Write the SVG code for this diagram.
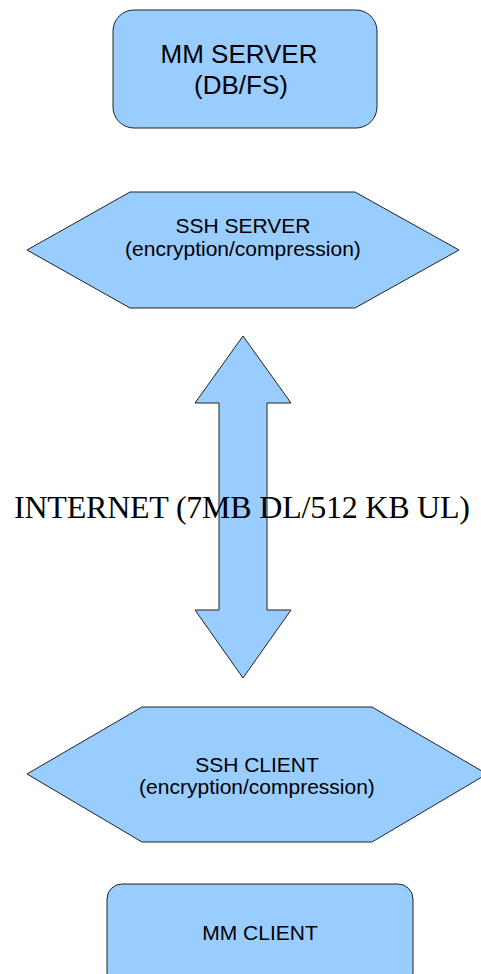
<svg xmlns="http://www.w3.org/2000/svg" width="481" height="974" viewBox="0 0 481 974">
<style>
.shape{fill:#99ccff;stroke:#222;stroke-width:1}
.lbl{font-family:"Liberation Sans",Arial,sans-serif;fill:#000;text-anchor:middle}
.big{font-family:"Liberation Serif","Times New Roman",serif;fill:#000;font-size:32px}
</style>
<rect width="481" height="974" fill="#fff"/>
<g id="connectors">
<polygon class="shape" points="243,336 291,403 267,403 267,610 291,610 243,678 195,610 219,610 219,403 195,403"/>
<text class="big" x="14" y="518" textLength="456">INTERNET (7MB DL/512 KB UL)</text>
</g>
<g id="mm-server">
<rect class="shape" x="113" y="10" width="264" height="118" rx="21" ry="21"/>
<text class="lbl" x="239" y="63" font-size="26">MM SERVER</text>
<text class="lbl" x="241" y="94" font-size="26">(DB/FS)</text>
</g>
<g id="ssh-server">
<polygon class="shape" points="27,250 130,192 355,192 459,250 355,308 130,308"/>
<text class="lbl" x="243" y="233" font-size="21">SSH SERVER</text>
<text class="lbl" x="243" y="256" font-size="21">(encryption/compression)</text>
</g>
<g id="ssh-client">
<polygon class="shape" points="27,774 142,707 372,707 487,774 372,842 142,842"/>
<text class="lbl" x="257" y="772" font-size="21">SSH CLIENT</text>
<text class="lbl" x="257" y="794" font-size="21">(encryption/compression)</text>
</g>
<g id="mm-client">
<rect class="shape" x="107" y="884" width="306" height="104" rx="15" ry="15"/>
<text class="lbl" x="260" y="940" font-size="21">MM CLIENT</text>
</g>
</svg>
